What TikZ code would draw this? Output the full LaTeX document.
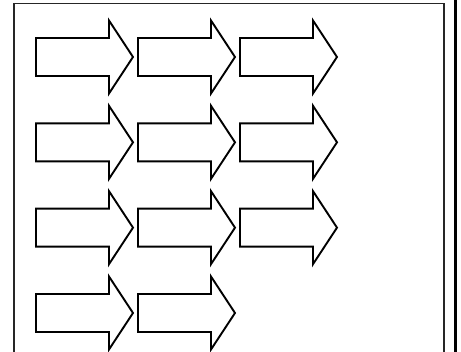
\documentclass[tikz,border=0pt]{standalone}
\usepackage{tikz}

\begin{document}
\begin{tikzpicture}[
  x=1pt, y=-1pt,
  outline/.style={draw=black, line width=1.9pt, line join=miter},
  frame/.style={draw=black!85, line width=1.5pt},
  edgebar/.style={draw=black, line width=3pt},
  blockarrow/.pic={
    \draw[outline] (0,-19) -- (73,-19) -- (73,-36.5) -- (97,0)
      -- (73,36.5) -- (73,19) -- (0,19) -- cycle;
  }
]
\useasboundingbox (0,0) rectangle (461,352);
\clip (0,0) rectangle (461,352);
% frame, open at the bottom
\coordinate (fbl) at (14,360);
\coordinate (ftl) at (14,3.5);
\coordinate (ftr) at (444,3.5);
\coordinate (fbr) at (444,360);
\draw[frame] (fbl) -- (ftl) -- (ftr) -- (fbr);
\coordinate (bartop) at (455.5,0);
\coordinate (barbot) at (455.5,352);
\draw[edgebar] (bartop) -- (barbot);
% rows of block arrows
\foreach \r/\n in {0/3,1/3,2/3,3/2} {
  \foreach \c in {1,...,\n} {
    \pic (arrow-\r-\c) at ({36+102*(\c-1)},{57+85.33*\r}) {blockarrow};
  }
}
\end{tikzpicture}
\end{document}
